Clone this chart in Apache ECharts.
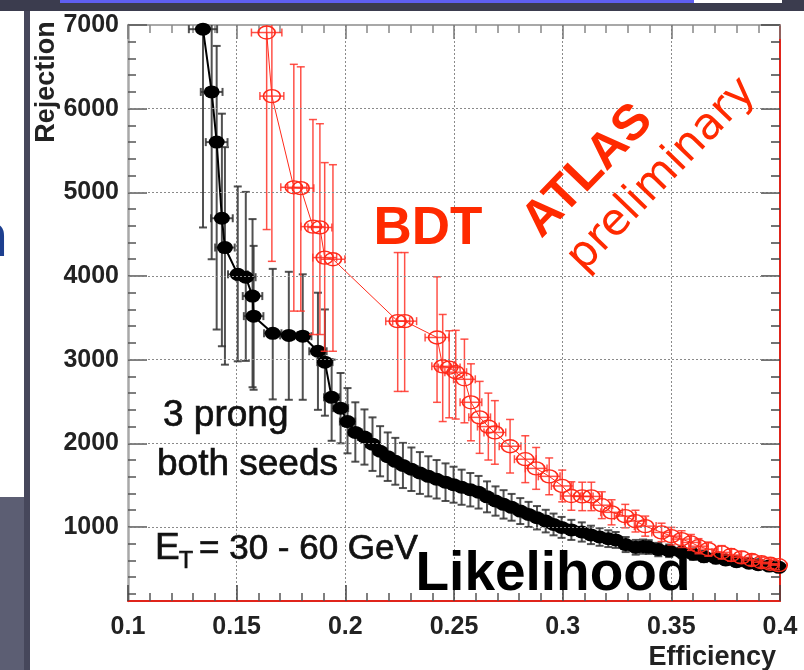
<!DOCTYPE html>
<html>
<head>
<meta charset="utf-8">
<script src="https://cdn.jsdelivr.net/npm/echarts@6/dist/echarts.min.js"></script>
<style>
  html, body { margin:0; padding:0; width:804px; height:670px; overflow:hidden; background:#4a4b5f; }
  .abs { position:absolute; }
</style>
</head>
<body>
<div class="abs" style="left:0;top:0;width:804px;height:11px;background:#3b3c4e;"></div>
<div class="abs" style="left:60px;top:0;width:634px;height:3px;background:#5f5ff2;"></div>
<div class="abs" style="left:694px;top:0;width:88px;height:3px;background:#ffffff;"></div>
<div class="abs" style="left:0;top:11px;width:24px;height:486px;background:#ffffff;overflow:hidden;">
  <div class="abs" style="left:-30px;top:188px;font:bold 62px 'Liberation Sans';color:#1d3f8f;">n</div>
</div>
<div class="abs" style="left:0;top:497px;width:24px;height:173px;background:#5c5e73;"></div>
<div class="abs" style="left:24px;top:11px;width:6px;height:659px;background:#46475b;"></div>
<div class="abs" style="left:30px;top:11px;width:774px;height:659px;background:#ffffff;"></div>
<div id="chart" class="abs" style="left:0;top:0;width:804px;height:670px;"></div>
<script>
// ---------------- data ----------------
const xTickLabels = [0.1, 0.15, 0.2, 0.25, 0.3, 0.35, 0.4];
const yTickLabels = [1000, 2000, 3000, 4000, 5000, 6000, 7000];
const yMinorTicks = [200,400,600,800,1200,1400,1600,1800,2200,2400,2600,2800,3200,3400,3600,3800,
                     4200,4400,4600,4800,5200,5400,5600,5800,6200,6400,6600,6800];

// Likelihood (black, filled circles)
const likeEff = [0.1345,0.1385,0.1408,0.1432,0.1446,0.1505,0.1542,0.1573,0.1578,0.1666,0.1740,0.1804,
  0.1874,0.1906,0.1937,0.1978,0.2010,0.2046,0.2088,0.2125,0.2160,0.2195,0.2230,0.2265,0.2304,0.2343,
  0.2382,0.2420,0.2461,0.2498,0.2535,0.2575,0.2613,0.2652,0.2691,0.2728,0.2765,0.2805,0.2843,0.2882,
  0.2922,0.2958,0.2995,0.3040,0.3088,0.3130,0.3170,0.3210,0.3244,0.3290,0.3336,0.3370,0.3396,0.3440,
  0.3490,0.3548,0.3600,0.3650,0.3705,0.3750,0.3800,0.3857,0.3900,0.3950,0.3995];
const likeRej = [6950,6200,5600,4690,4340,4020,3985,3760,3520,3315,3290,3280,
  3100,2970,2550,2420,2260,2130,2075,1990,1905,1840,1785,1735,1690,1645,
  1605,1570,1535,1505,1475,1445,1415,1360,1310,1270,1235,1190,1150,1110,
  1070,1030,995,965,940,905,880,860,845,790,757,765,760,730,
  715,697,675,645,626,606,585,566,548,532,518];
const likeEffErr = [0.0065,0.005,0.005,0.005,0.0045,0.0045,0.0045,0.0045,0.0045,0.004,0.004,0.004,
  0.004,0.0035,0.0035,0.0035,0.0035,0.003,0.003,0.003,0.003,0.003,0.003,0.003,0.003,0.003,
  0.003,0.003,0.003,0.003,0.003,0.003,0.003,0.003,0.003,0.003,0.003,0.003,0.003,0.003,
  0.003,0.003,0.003,0.003,0.003,0.003,0.003,0.003,0.003,0.003,0.003,0.003,0.003,0.003,
  0.003,0.003,0.003,0.003,0.003,0.003,0.003,0.003,0.003,0.003,0.003];
const likeErrLow = [2370,2000,2240,1530,1400,1040,1000,1090,880,790,770,760,
  700,640,520,420,380,350,330,320,300,290,280,270,260,250,
  240,230,225,215,210,200,195,185,175,170,160,155,150,140,
  135,130,125,120,115,110,105,100,95,90,88,85,82,80,
  75,70,68,65,60,58,55,52,50,48,45];
const likeErrHigh = [700,900,1150,1250,1200,1050,1020,920,840,770,760,740,
  700,630,450,420,400,360,330,320,300,290,280,270,260,250,
  240,230,225,215,210,200,195,185,175,170,160,155,150,140,
  135,130,125,120,115,110,105,100,95,90,88,85,82,80,
  75,70,68,65,60,58,55,52,50,48,45];

// BDT (red, open circles)
const bdtEff = [0.1638,0.1662,0.1763,0.1795,0.1851,0.1883,0.1905,0.1943,0.2241,0.2273,0.2422,0.2448,
  0.2478,0.2508,0.2548,0.2578,0.2618,0.2658,0.2688,0.2758,0.2828,0.2878,0.2938,0.2998,0.3040,0.3090,
  0.3132,0.3180,0.3225,0.3288,0.3335,0.3380,0.3455,0.3500,0.3547,0.3590,0.3625,0.3670,0.3732,0.3775,
  0.3823,0.3870,0.3915,0.3955,0.3994];
const bdtRej = [6910,6150,5060,5050,4590,4580,4220,4200,3460,3460,3265,2920,
  2905,2850,2765,2490,2310,2200,2130,1965,1810,1700,1605,1490,1370,1365,
  1365,1260,1175,1130,1070,1010,935,890,855,815,770,735,697,665,
  637,605,578,560,543];
const bdtEffErr = [0.007,0.0055,0.006,0.006,0.0055,0.0055,0.0055,0.0055,0.0055,0.0055,0.0055,0.005,
  0.005,0.005,0.005,0.005,0.005,0.005,0.005,0.005,0.005,0.005,0.005,0.005,0.005,0.005,
  0.005,0.005,0.005,0.005,0.005,0.005,0.0045,0.0045,0.0045,0.0045,0.0045,0.0045,0.0045,0.0045,
  0.0045,0.0045,0.0045,0.0045,0.0045];
const bdtErrLow = [2355,1975,1480,1470,1290,1280,1120,1100,840,840,775,660,
  600,560,520,460,430,400,380,320,280,250,220,190,170,170,
  170,160,150,140,130,120,110,105,100,95,90,85,80,75,
  70,65,60,58,55];
const bdtErrHigh = [900,1000,1470,1450,1280,1240,1135,1130,820,820,725,620,
  440,500,480,460,430,400,380,320,280,250,220,190,170,170,
  170,160,150,140,130,120,110,105,100,95,90,85,80,75,
  70,65,60,58,55];

// ---------------- build ----------------
const Y_MIN = 115, Y_MAX = 7000;
function zip5(a,b,c,d,e){ return a.map((v,i)=>[v,b[i],c[i],d[i],e[i]]); }
const likeData = zip5(likeEff, likeRej, likeEffErr, likeErrLow, likeErrHigh);
const bdtData = zip5(bdtEff, bdtRej, bdtEffErr, bdtErrLow, bdtErrHigh);

function errRender(color, lw, capX, capY) {
  return function (params, api) {
    const x = api.value(0), y = api.value(1), xe = api.value(2), lo = api.value(3), hi = api.value(4);
    const c = api.coord([x, y]);
    const l = api.coord([x - xe, y]);
    const r = api.coord([x + xe, y]);
    const b = api.coord([x, Math.max(y - lo, Y_MIN)]);
    const t = api.coord([x, Math.min(y + hi, Y_MAX)]);
    const st = { stroke: color, lineWidth: lw, fill: null };
    const kids = [
      {type:'line', shape:{x1:l[0],y1:c[1],x2:r[0],y2:c[1]}, style:st},
      {type:'line', shape:{x1:l[0],y1:c[1]-capX,x2:l[0],y2:c[1]+capX}, style:st},
      {type:'line', shape:{x1:r[0],y1:c[1]-capX,x2:r[0],y2:c[1]+capX}, style:st},
      {type:'line', shape:{x1:c[0],y1:b[1],x2:c[0],y2:t[1]}, style:st}
    ];
    if (y - lo > Y_MIN) kids.push({type:'line', shape:{x1:c[0]-capY,y1:b[1],x2:c[0]+capY,y2:b[1]}, style:st});
    if (y + hi < Y_MAX) kids.push({type:'line', shape:{x1:c[0]-capY,y1:t[1],x2:c[0]+capY,y2:t[1]}, style:st});
    return {type:'group', children:kids};
  };
}

const tickFont = { fontFamily:'Liberation Sans', fontWeight:'bold', fontSize:25, color:'#222' };
const grey = '#a8a8a8', red = '#e0241b';
const heavy = (fill) => ({ fill: fill, stroke: fill, lineWidth: 0.7 });

const chart = echarts.init(document.getElementById('chart'), null, {renderer:'canvas'});
chart.setOption({
  backgroundColor: 'transparent',
  animation: false,
  grid: { left:128, top:25, width:652, height:576, containLabel:false },
  xAxis: [
    { type:'value', position:'bottom', min:0.1, max:0.4, interval:0.05,
      axisLine:{ show:true, lineStyle:{ color:red, width:2 } },
      axisTick:{ show:true, inside:true, length:16, lineStyle:{ color:'#444', width:1.5 } },
      minorTick:{ show:true, splitNumber:5, length:8, lineStyle:{ color:'#555', width:1.5 } },
      axisLabel:{ show:true, margin:14, ...tickFont,
        formatter: v => { const m = xTickLabels.find(t => Math.abs(t - v) < 1e-6); return m === undefined ? '' : String(m); } },
      splitLine:{ show:true, lineStyle:{ color:'#8a8a8a', type:[2,2], width:1 } } },
    { type:'value', position:'top', min:0.1, max:0.4, interval:0.05,
      axisLine:{ show:true, lineStyle:{ color:grey, width:2 } },
      axisTick:{ show:true, inside:true, length:14, lineStyle:{ color:'#777', width:1.5 } },
      minorTick:{ show:true, splitNumber:5, length:8, lineStyle:{ color:'#888', width:1.5 } },
      axisLabel:{ show:false }, splitLine:{ show:false } }
  ],
  yAxis: [
    { type:'value', position:'left', min:Y_MIN, max:Y_MAX,
      axisLine:{ show:true, lineStyle:{ color:grey, width:2.5 } },
      axisTick:{ show:true, inside:true, length:19, customValues:yTickLabels, lineStyle:{ color:'#555', width:1.5 } },
      axisLabel:{ show:true, margin:9, customValues:yTickLabels, ...tickFont,
        formatter: v => String(Math.round(v)) },
      splitLine:{ show:false } },
    { type:'value', position:'left', min:Y_MIN, max:Y_MAX,
      axisLine:{ show:false },
      axisTick:{ show:true, inside:true, length:8, customValues:yMinorTicks, lineStyle:{ color:'#555', width:1.5 } },
      axisLabel:{ show:false }, splitLine:{ show:false } },
    { type:'value', position:'right', min:Y_MIN, max:Y_MAX,
      axisLine:{ show:true, lineStyle:{ color:red, width:2 } },
      axisTick:{ show:true, inside:true, length:19, customValues:yTickLabels, lineStyle:{ color:'#444', width:1.5 } },
      axisLabel:{ show:false }, splitLine:{ show:false } },
    { type:'value', position:'right', min:Y_MIN, max:Y_MAX,
      axisLine:{ show:false },
      axisTick:{ show:true, inside:true, length:9, customValues:yMinorTicks, lineStyle:{ color:'#444', width:1.5 } },
      axisLabel:{ show:false }, splitLine:{ show:false } }
  ],
  series: [
    { type:'line', name:'grid', data:[], z:0, silent:true,
      markLine:{ silent:true, symbol:'none', label:{show:false},
        lineStyle:{ color:'#8a8a8a', type:[2,2], width:1 },
        data: yTickLabels.filter(v => v < Y_MAX).map(v => ({ yAxis: v })) } },
    { type:'custom', name:'likeErr', data:likeData, clip:true, z:2,
      dimensions:['x','y','xe','lo','hi'], encode:{ x:0, y:1 },
      renderItem: errRender('rgba(50,50,50,0.85)', 2, 4, 4) },
    { type:'line', name:'Likelihood', data:likeData.map(d => [d[0], d[1]]), z:3,
      symbol:'circle', symbolSize:[16,13], showSymbol:true, clip:true,
      lineStyle:{ color:'#000', width:2 }, itemStyle:{ color:'#000' } },
    { type:'custom', name:'bdtErr', data:bdtData, clip:true, z:4,
      dimensions:['x','y','xe','lo','hi'], encode:{ x:0, y:1 },
      renderItem: errRender('rgba(255,50,40,0.85)', 1.5, 4, 4) },
    { type:'line', name:'BDT', data:bdtData.map(d => [d[0], d[1]]), z:5,
      symbol:'circle', symbolSize:[17,13], showSymbol:true, clip:true,
      lineStyle:{ color:'#ff2a1a', width:1 },
      itemStyle:{ color:'rgba(255,255,255,0)', borderColor:'#ff2a1a', borderWidth:1.5 } }
  ],
  graphic: [
    { type:'text', x:47, y:82, rotation:Math.PI/2, z:10,
      style:{ text:'Rejection', font:'bold 27px "Liberation Sans"', fill:'#222', align:'center', verticalAlign:'middle' } },
    { type:'text', x:776, y:658, z:10,
      style:{ text:'Efficiency', font:'bold 27px "Liberation Sans"', fill:'#222', align:'right', verticalAlign:'middle' } },
    { type:'text', x:428, y:229, z:10,
      style:{ text:'BDT', font:'bold 53px "Liberation Sans"', fill:'#ff2a00', align:'center', verticalAlign:'middle' } },
    { type:'text', x:588, y:171, rotation:46*Math.PI/180, z:10,
      style:{ text:'ATLAS', font:'bold 50px "Liberation Sans"', fill:'#ff2a00', align:'center', verticalAlign:'middle' } },
    { type:'text', x:662, y:175, rotation:46*Math.PI/180, z:10,
      style:{ text:'preliminary', font:'44px "DejaVu Sans"', fill:'#ff2a00', align:'center', verticalAlign:'middle' } },
    { type:'text', x:163, y:416, z:10,
      style:{ text:'3 prong', font:'37px "Liberation Sans"', ...heavy('#111'), align:'left', verticalAlign:'middle' } },
    { type:'text', x:157, y:465, z:10,
      style:{ text:'both seeds', font:'37px "Liberation Sans"', ...heavy('#111'), align:'left', verticalAlign:'middle' } },
    { type:'text', x:155, y:549, z:10,
      style:{ text:'E', font:'37px "Liberation Sans"', ...heavy('#111'), align:'left', verticalAlign:'middle' } },
    { type:'text', x:179, y:562, z:10,
      style:{ text:'T', font:'23px "Liberation Sans"', ...heavy('#111'), align:'left', verticalAlign:'middle' } },
    { type:'text', x:199, y:549, z:10,
      style:{ text:'= 30 - 60 GeV', font:'35px "Liberation Sans"', ...heavy('#111'), align:'left', verticalAlign:'middle' } },
    { type:'text', x:553, y:575, z:10,
      style:{ text:'Likelihood', font:'bold 55px "Liberation Sans"', fill:'#000', align:'center', verticalAlign:'middle' } }
  ]
});
</script>
</body>
</html>
